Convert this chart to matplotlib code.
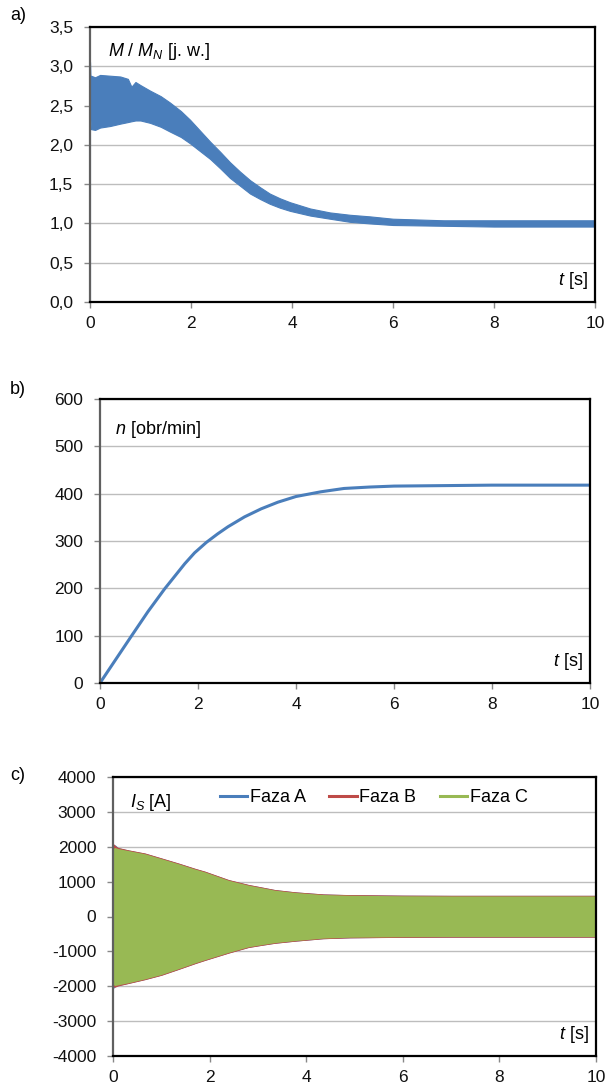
import numpy as np
import matplotlib
matplotlib.use("Agg")
import matplotlib.pyplot as plt
from matplotlib.lines import Line2D
from matplotlib.ticker import FuncFormatter

plt.rcParams["font.family"] = ["Liberation Sans", "DejaVu Sans"]
plt.rcParams["mathtext.fontset"] = "custom"
plt.rcParams["mathtext.rm"] = "Liberation Sans"
plt.rcParams["mathtext.it"] = "Liberation Sans:italic"
plt.rcParams["axes.unicode_minus"] = False

BLUE = "#4A7EBB"
RED = "#BE4B48"
GREEN = "#98B954"
GRID = "#BDBDBD"

# a) torque ratio M/MN - envelope of the oscillating trace
t_m = [0.0, 0.02, 0.1, 0.2, 0.4, 0.6, 0.75, 0.82, 0.9, 1.0, 1.19, 1.4, 1.58, 1.8, 1.98,
       2.18, 2.38, 2.58, 2.77, 2.97, 3.17, 3.37, 3.56, 3.76, 3.96, 4.36, 4.75, 5.15,
       5.54, 6.0, 7.0, 8.0, 9.0, 10.0]
m_upper = [2.85, 2.88, 2.86, 2.89, 2.88, 2.87, 2.84, 2.74, 2.80, 2.76, 2.69, 2.62, 2.54,
           2.43, 2.32, 2.18, 2.04, 1.91, 1.78, 1.66, 1.55, 1.46, 1.38, 1.32, 1.27, 1.19,
           1.14, 1.11, 1.09, 1.06, 1.04, 1.04, 1.04, 1.04]
m_lower = [2.45, 2.20, 2.19, 2.22, 2.24, 2.27, 2.29, 2.30, 2.31, 2.31, 2.28, 2.23, 2.17,
           2.10, 2.02, 1.92, 1.82, 1.70, 1.58, 1.48, 1.38, 1.31, 1.25, 1.20, 1.16, 1.10,
           1.06, 1.02, 1.00, 0.98, 0.97, 0.96, 0.96, 0.96]
t_spike = [0.0, 0.0, 0.02]
m_spike = [0.0, 3.05, 2.6]

# b) rotational speed
t_n = [0.0, 0.31, 0.64, 0.98, 1.32, 1.73, 1.93, 2.17, 2.4, 2.61, 2.95, 3.29, 3.63, 4.0,
       4.51, 4.98, 5.5, 6.0, 7.0, 8.0, 9.0, 10.0]
n_val = [0, 48, 99, 151, 199, 252, 275, 297, 315, 330, 351, 368, 382, 394, 404, 411,
         414, 416, 417, 418, 418, 418]

# c) stator currents - envelopes of the three phases
t_i = [0.0, 0.04, 0.1, 0.32, 0.66, 1.0, 1.35, 1.7, 1.9, 2.39, 2.8, 3.07, 3.35, 3.77,
       4.35, 4.9, 6.0, 7.0, 8.0, 9.0, 10.0]
i_upper = [1950, 1980, 1950, 1890, 1800, 1660, 1515, 1360, 1280, 1040, 900, 830, 755,
           690, 630, 610, 595, 590, 590, 590, 590]
i_lower = [-1950, -1980, -1960, -1900, -1790, -1665, -1500, -1330, -1240, -1030, -870,
           -810, -750, -690, -620, -595, -580, -575, -575, -575, -575]
ia_upper = [2000, 2040, 1960, 1890, 1800, 1660, 1515, 1360, 1280, 1040, 900, 830, 755,
            690, 630, 610, 595, 590, 590, 590, 590]
ia_lower = [-2050, -2000, -1970, -1900, -1790, -1665, -1500, -1330, -1240, -1030, -870,
            -810, -750, -690, -620, -595, -580, -575, -575, -575, -575]
ib_upper = [2080, 2020, 1965, 1895, 1805, 1665, 1520, 1365, 1285, 1045, 905, 833, 758,
            692, 632, 612, 597, 592, 592, 592, 592]
ib_lower = [-2000, -2010, -1975, -1905, -1795, -1670, -1505, -1335, -1245, -1035, -875,
            -813, -753, -692, -622, -597, -582, -577, -577, -577, -577]
phase_labels = ["Faza A", "Faza B", "Faza C"]

W, H = 606, 1088


def make_axes(fig, left, right, top, bottom):
    return fig.add_axes([left / W, 1 - bottom / H, (right - left) / W, (bottom - top) / H])


def style_axes(ax, yticks, fmt=None):
    ax.set_xlim(0, 10)
    ax.set_xticks(range(0, 11, 2))
    ax.set_ylim(yticks[0], yticks[-1])
    ax.set_yticks(yticks)
    if fmt is not None:
        ax.yaxis.set_major_formatter(FuncFormatter(fmt))
    ax.grid(axis="y", color=GRID, lw=1.0)
    ax.set_axisbelow(True)
    for side in ["top", "right", "bottom"]:
        ax.spines[side].set_color("black")
        ax.spines[side].set_linewidth(1.6)
    ax.spines["left"].set_color("#606060")
    ax.spines["left"].set_linewidth(1.6)
    ax.tick_params(axis="both", labelsize=12.5, colors="#888888", labelcolor="#111111",
                   length=4, width=1, direction="out")
    ax.tick_params(axis="x", pad=6)
    ax.tick_params(axis="y", pad=8)
    ax.text(0.985, 0.04, r"$t$ [s]", transform=ax.transAxes, ha="right", va="bottom",
            fontsize=13)


fig = plt.figure(figsize=(W / 100, H / 100), dpi=100)

# a)
ax1 = make_axes(fig, 90, 595, 27, 302)
ax1.fill_between(t_m, m_lower, m_upper, color=BLUE, lw=0.8, edgecolor=BLUE)
ax1.plot(t_spike, m_spike, color=BLUE, lw=1.5)
style_axes(ax1, [0, 0.5, 1.0, 1.5, 2.0, 2.5, 3.0, 3.5],
           lambda v, p: f"{v:.1f}".replace(".", ","))
ax1.text(0.035, 0.95, r"$M$ / $M_N$ [j. w.]", transform=ax1.transAxes, ha="left",
         va="top", fontsize=13)
fig.text(10 / W, 1 - 15 / H, "a)", fontsize=13, va="center")

# b)
ax2 = make_axes(fig, 100, 590, 399, 683)
ax2.plot(t_n, n_val, color=BLUE, lw=2.2)
style_axes(ax2, [0, 100, 200, 300, 400, 500, 600])
ax2.text(0.03, 0.93, r"$n$ [obr/min]", transform=ax2.transAxes, ha="left", va="top",
         fontsize=13)
fig.text(10 / W, 1 - 390 / H, "b)", fontsize=13, va="center")

# c)
ax3 = make_axes(fig, 113, 596, 777, 1056)
ax3.fill_between(t_i, ia_lower, ia_upper, color=BLUE, lw=0.8, edgecolor=BLUE)
ax3.fill_between(t_i, ib_lower, ib_upper, color=RED, lw=0.8, edgecolor=RED)
ax3.fill_between(t_i, i_lower, i_upper, color=GREEN, lw=0)
style_axes(ax3, [-4000, -3000, -2000, -1000, 0, 1000, 2000, 3000, 4000])
ax3.text(0.035, 0.945, r"$I_S$ [A]", transform=ax3.transAxes, ha="left", va="top",
         fontsize=13)
handles = [Line2D([], [], color=c, lw=2.2) for c in [BLUE, RED, GREEN]]
ax3.legend(handles, phase_labels, loc="center", bbox_to_anchor=(0.54, 0.925), ncol=3,
           frameon=False, fontsize=13, handlelength=1.5, handletextpad=0.15,
           columnspacing=1.3)
fig.text(10 / W, 1 - 775 / H, "c)", fontsize=13, va="center")

fig.savefig("out.png", dpi=100)
